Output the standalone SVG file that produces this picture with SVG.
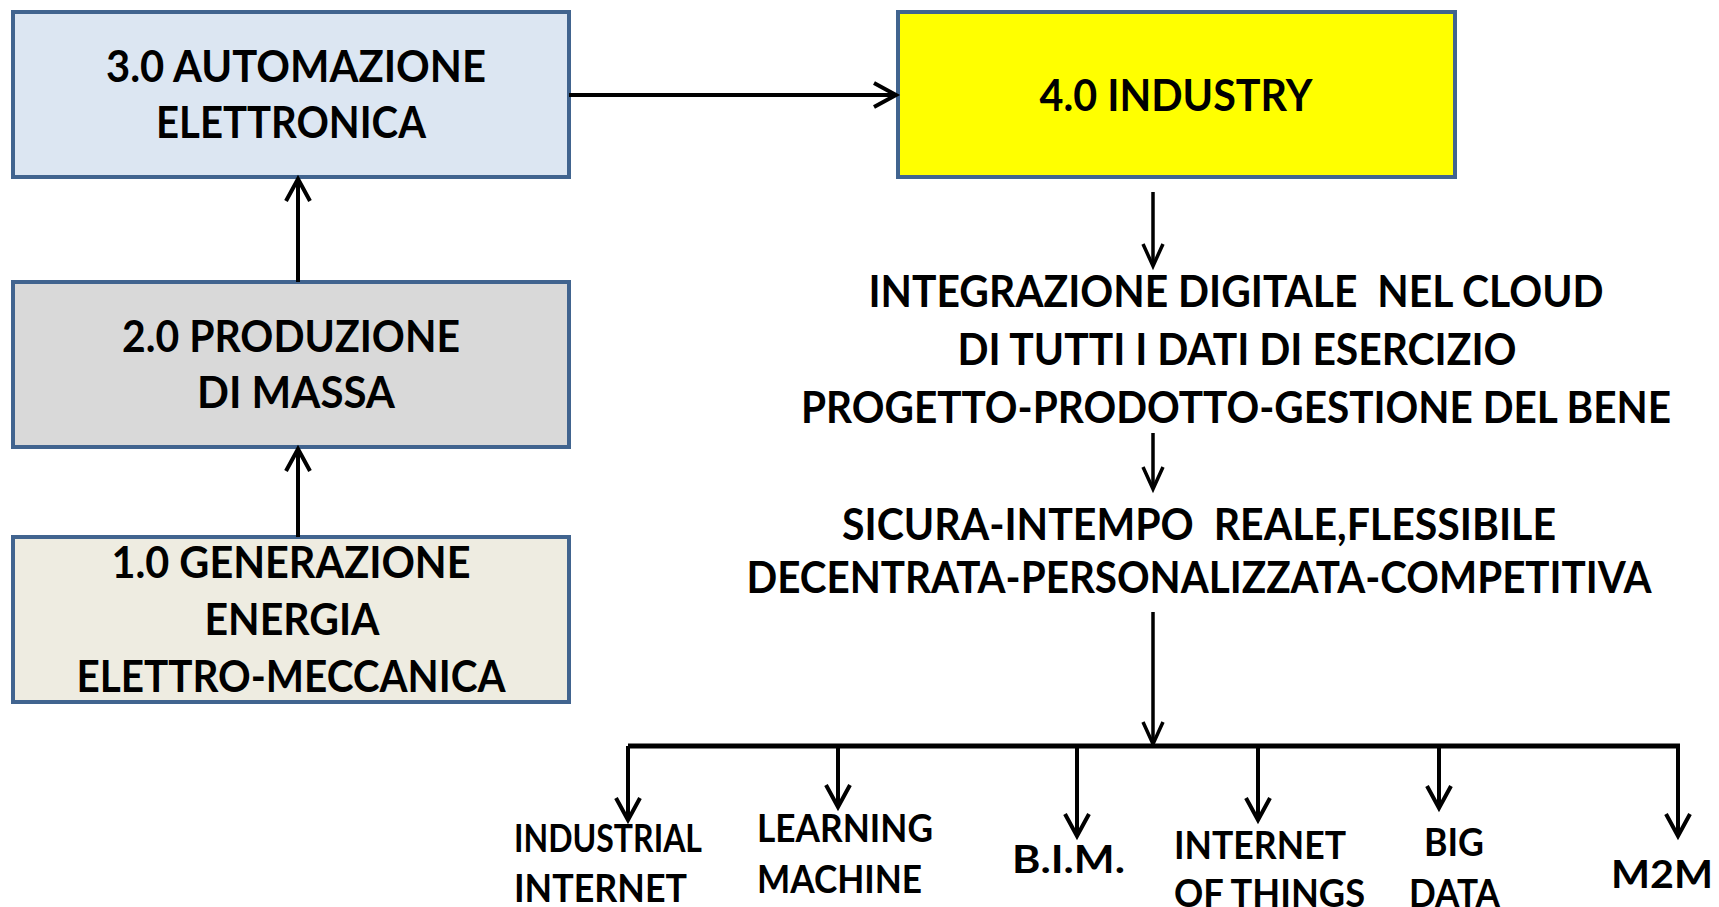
<svg xmlns="http://www.w3.org/2000/svg" width="1719" height="907" viewBox="0 0 1719 907">
<style>
.box{stroke:#41648F;stroke-width:4}
.t{font-family:Lato,"Liberation Sans",sans-serif;font-weight:bold;fill:#000;text-anchor:middle;font-size:44px;white-space:pre}
.s{font-family:Lato,"Liberation Sans",sans-serif;font-weight:bold;fill:#000;font-size:38px}
.c{stroke:#000;fill:none}
</style>
<defs>
<marker id="ah" markerUnits="userSpaceOnUse" markerWidth="30" markerHeight="30" viewBox="0 0 30 30" refX="25" refY="15" orient="auto">
<path d="M3,3 L25,15 L3,27" fill="none" stroke="#000" stroke-width="4"/>
</marker>
<marker id="ah2" markerUnits="userSpaceOnUse" markerWidth="30" markerHeight="30" viewBox="0 0 30 30" refX="25" refY="15" orient="auto">
<path d="M3,5 L25,15 L3,25" fill="none" stroke="#000" stroke-width="3.5"/>
</marker>
</defs>
<rect width="1719" height="907" fill="#fff"/>
<g id="n3">
<rect class="box" x="13" y="12" width="556" height="165" fill="#DCE6F2"/>
<text class="t" x="296" y="82" textLength="380" lengthAdjust="spacingAndGlyphs">3.0 AUTOMAZIONE</text>
<text class="t" x="291" y="138" textLength="270" lengthAdjust="spacingAndGlyphs">ELETTRONICA</text>
</g>
<g id="n4">
<rect class="box" x="898" y="12" width="557" height="165" fill="#FFFF00"/>
<text class="t" x="1176" y="111" textLength="273" lengthAdjust="spacingAndGlyphs">4.0 INDUSTRY</text>
</g>
<g id="n2">
<rect class="box" x="13" y="282" width="556" height="165" fill="#D9D9D9"/>
<text class="t" x="291" y="352" textLength="338" lengthAdjust="spacingAndGlyphs">2.0 PRODUZIONE</text>
<text class="t" x="296" y="408" textLength="198" lengthAdjust="spacingAndGlyphs">DI MASSA</text>
</g>
<g id="n1">
<rect class="box" x="13" y="537" width="556" height="165" fill="#EEECE1"/>
<text class="t" x="291" y="578" textLength="359" lengthAdjust="spacingAndGlyphs">1.0 GENERAZIONE</text>
<text class="t" x="292" y="635" textLength="175" lengthAdjust="spacingAndGlyphs">ENERGIA</text>
<text class="t" x="291" y="692" textLength="429" lengthAdjust="spacingAndGlyphs">ELETTRO-MECCANICA</text>
</g>
<g id="txt1">
<text class="t" x="1236" y="307" textLength="735" lengthAdjust="spacingAndGlyphs" xml:space="preserve">INTEGRAZIONE DIGITALE  NEL CLOUD</text>
<text class="t" x="1237" y="365" textLength="559" lengthAdjust="spacingAndGlyphs">DI TUTTI I DATI DI ESERCIZIO</text>
<text class="t" x="1236" y="423" textLength="870" lengthAdjust="spacingAndGlyphs">PROGETTO-PRODOTTO-GESTIONE DEL BENE</text>
</g>
<g id="txt2">
<text class="t" x="1199" y="540" textLength="714" lengthAdjust="spacingAndGlyphs" xml:space="preserve">SICURA-INTEMPO  REALE,FLESSIBILE</text>
<text class="t" x="1199" y="593" textLength="905" lengthAdjust="spacingAndGlyphs">DECENTRATA-PERSONALIZZATA-COMPETITIVA</text>
</g>
<g id="leaf1">
<text class="s" x="514" y="852" font-size="31" textLength="188" lengthAdjust="spacingAndGlyphs">INDUSTRIAL</text>
<text class="s" x="514" y="902" font-size="32" textLength="173" lengthAdjust="spacingAndGlyphs">INTERNET</text>
</g>
<g id="leaf2">
<text class="s" x="757" y="842" font-size="37" textLength="176" lengthAdjust="spacingAndGlyphs">LEARNING</text>
<text class="s" x="757" y="893" font-size="37" textLength="165" lengthAdjust="spacingAndGlyphs">MACHINE</text>
</g>
<g id="leaf3">
<text class="s" x="1012" y="873" font-size="39" textLength="113" lengthAdjust="spacingAndGlyphs">B.I.M.</text>
</g>
<g id="leaf4">
<text class="s" x="1174" y="859" textLength="172" lengthAdjust="spacingAndGlyphs">INTERNET</text>
<text class="s" x="1174" y="907" textLength="191" lengthAdjust="spacingAndGlyphs">OF THINGS</text>
</g>
<g id="leaf5">
<text class="s" x="1424" y="856" textLength="60" lengthAdjust="spacingAndGlyphs">BIG</text>
<text class="s" x="1409" y="907" textLength="91" lengthAdjust="spacingAndGlyphs">DATA</text>
</g>
<g id="leaf6">
<text class="s" x="1611" y="888" font-size="39" textLength="102" lengthAdjust="spacingAndGlyphs">M2M</text>
</g>
<g id="connectors">
<line class="c" x1="298" y1="537" x2="298" y2="449" stroke-width="4" marker-end="url(#ah)"/>
<line class="c" x1="298" y1="282" x2="298" y2="179" stroke-width="4" marker-end="url(#ah)"/>
<line class="c" x1="569" y1="95" x2="896" y2="95" stroke-width="4" marker-end="url(#ah)"/>
<line class="c" x1="1153" y1="192" x2="1153" y2="266" stroke-width="3.5" marker-end="url(#ah2)"/>
<line class="c" x1="1153" y1="433" x2="1153" y2="489" stroke-width="3.5" marker-end="url(#ah2)"/>
<line class="c" x1="1153" y1="612" x2="1153" y2="744" stroke-width="3.5" marker-end="url(#ah2)"/>
<line class="c" x1="628" y1="746" x2="1680" y2="746" stroke-width="5"/>
<line class="c" x1="628" y1="746" x2="628" y2="820" stroke-width="4" marker-end="url(#ah)"/>
<line class="c" x1="838" y1="746" x2="838" y2="807" stroke-width="4" marker-end="url(#ah)"/>
<line class="c" x1="1077" y1="746" x2="1077" y2="836" stroke-width="4" marker-end="url(#ah)"/>
<line class="c" x1="1258" y1="746" x2="1258" y2="820" stroke-width="4" marker-end="url(#ah)"/>
<line class="c" x1="1439" y1="746" x2="1439" y2="808" stroke-width="4" marker-end="url(#ah)"/>
<line class="c" x1="1678" y1="746" x2="1678" y2="836" stroke-width="4" marker-end="url(#ah)"/>
</g>
</svg>
